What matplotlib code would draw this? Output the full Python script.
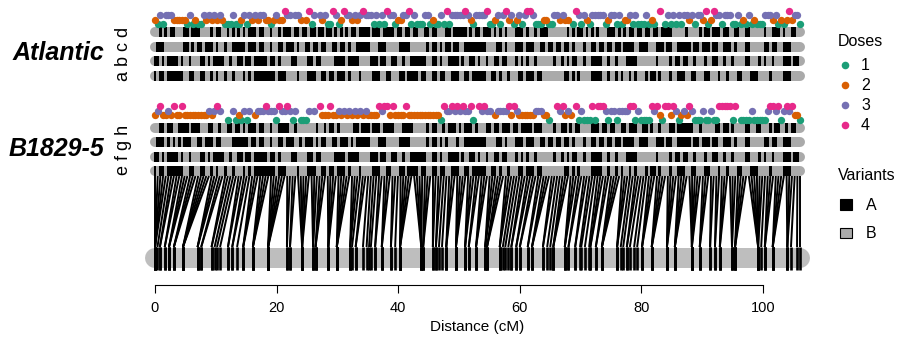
import itertools
import numpy as np
import matplotlib
matplotlib.use("Agg")
import matplotlib.pyplot as plt
from matplotlib.collections import LineCollection
from matplotlib.patches import Rectangle

plt.rcParams["font.family"] = ["Liberation Sans", "DejaVu Sans"]

# linkage map: distinct positions (cM) and how many markers sit at each
map_pos = [0.0, 0.4, 0.8, 1.6, 2.3, 3.1, 4.6, 7.0, 7.6, 9.3,
           9.8, 10.2, 10.7, 12.0, 12.7, 13.5, 14.5, 16.1, 18.6, 21.7,
           22.2, 24.2, 26.0, 26.4, 28.5, 29.9, 32.1, 32.4, 33.0, 34.2,
           34.8, 35.2, 35.5, 36.2, 37.3, 38.8, 39.5, 40.3, 43.8, 44.1,
           45.7, 46.2, 46.7, 47.2, 47.9, 49.5, 51.0, 51.6, 52.8, 54.3,
           54.6, 56.7, 57.2, 57.6, 58.1, 58.6, 59.4, 60.0, 61.3, 62.0,
           63.8, 64.5, 65.0, 65.5, 67.4, 68.0, 69.1, 69.9, 70.1, 70.7,
           71.4, 71.6, 72.5, 73.5, 76.0, 76.6, 77.0, 77.6, 78.1, 78.8,
           79.3, 80.1, 81.7, 84.2, 85.5, 88.3, 89.6, 91.3, 92.1, 92.9,
           94.9, 95.4, 99.2, 99.7, 100.3, 101.6, 104.0, 104.6, 105.6, 106.1]
map_count = [5, 1, 2, 2, 3, 3, 5, 3, 2, 2,
             1, 1, 1, 2, 2, 1, 3, 4, 6, 2,
             2, 5, 3, 3, 4, 5, 3, 1, 2, 1,
             1, 1, 1, 2, 3, 2, 1, 5, 4, 3,
             2, 2, 1, 1, 3, 4, 3, 2, 3, 3,
             3, 3, 1, 1, 1, 2, 2, 2, 2, 3,
             2, 1, 1, 3, 3, 2, 2, 1, 1, 1,
             1, 2, 2, 4, 3, 1, 1, 2, 1, 1,
             1, 3, 4, 4, 4, 5, 3, 2, 2, 3,
             3, 4, 6, 1, 3, 4, 3, 1, 1, 1]

# allele dosage of every marker in each parent (0 = not drawn)
dose_atlantic = ("2131333222 2213121132 3232321113 1123132323 3221232243 3033202413 "
                 "0323114312 4332323433 3131314331 2233413111 3312113141 3333343213 "
                 "3334112313 4231231344 3111221133 2322014313 2133333123 3131223131 "
                 "1131210401 3131313323 1332412433 1333113121 3121113332 3121242331")
dose_b1829 = ("2342232422 4222222222 3234300103 1213130233 3433314334 3130111303 "
              "0422242232 3232323232 2224344242 2224222222 2222221433 4343433410 "
              "4343302333 3424322222 2333221004 3423204131 1141444313 3133334413 "
              "1111434214 4243123243 1113113114 4444140111 1311111344 3413434221")

# homolog phases, 1 = variant A, 0 = variant B
hom_a = ("1011011111 1001100110 0101001001 0001010111 1111101110 0001000111 "
         "0011011011 1010001000 0111001100 0110111101 1001101100 1110011011 "
         "1110011010 0100011011 1011000000 0011010100 0011110010 0101001010 "
         "0010110100 0100111001 1000110001 0010001100 0111000010 0001110000")
hom_b = ("1101011110 1001000110 1011110010 0110110111 1101101000 0110000110 "
         "1100000111 1011110000 1110110011 0010011111 1001101001 1110100110 "
         "1001001101 1000101010 0100000010 0101011001 0011110010 0100011110 "
         "0000001000 0101101100 1000100110 0100100001 1000101001 0001110110")
hom_c = ("0111000000 0110101101 1101001001 1111011101 1001001101 1101001101 "
         "1011001101 1010011111 0001110000 0111100000 0101101011 0110011111 "
         "1110000110 1000111011 1001101101 1011010001 0011011011 0110111100 "
         "1110001110 1100111110 1101110110 0111010001 1000001101 1001110000")
hom_d = ("0010101100 0110111000 0101100101 0101011101 1001001011 1011011011 "
         "0110110101 0101101111 0111011110 1101101100 1101100011 0111110101 "
         "1011101010 1000111010 0101110000 0001010110 1010100011 1010101101 "
         "1011011011 1100000100 0010110111 0110011001 1000001001 1101001100")
hom_e = hom_a
hom_f = hom_b
hom_g = ("0111010101 0111001101 1101100001 1111101101 1001001101 1100101110 "
         "1011001101 1101011111 0001110000 0111100000 0101101010 0010011111 "
         "1110000110 1000111011 1001101101 1011010001 0011011011 0110111100 "
         "1110001110 1100111110 1101110110 0111010001 1000001101 1001110000")
hom_h = ("0011011001 1110111000 1100100110 1101011101 1001001111 0010000000 "
         "1001011010 0000110111 0111011110 0011110000 0101100101 1101011101 "
         "0001101101 1101101111 0111000010 0110101100 0011101101 1001101110 "
         "0110100100 0110111111 0010000011 0110100001 1001100010 1100101100")

dose_colors = {1: "#1B9E77", 2: "#D95F02", 3: "#7570B3", 4: "#E7298A"}
grey_track = "#AAAAAA"
grey_map = "#BEBEBE"


def parse(s):
    return [int(c) for c in s.replace(" ", "")]


cm = np.repeat(map_pos, map_count)
n_mrk = len(cm)
cm_max = cm.max()
# markers spread evenly along the haplotype tracks
top_x = np.linspace(0, cm_max, n_mrk)
step = top_x[1] - top_x[0]

fig = plt.figure(figsize=(9.03, 3.39), dpi=100)
ax = fig.add_axes([0, 0, 1, 1])
px_per_cm = 6.08
ax.set_xlim(-155 / px_per_cm, (903 - 155) / px_per_cm)
ax.set_ylim(339, 0)


def draw_track(y, phase, h=10):
    ax.plot([0, cm_max], [y, y], color=grey_track, lw=h * 0.72,
            solid_capstyle="round", zorder=2)
    alleles = parse(phase)
    i = 0
    for val, grp in itertools.groupby(alleles):
        n = len(list(grp))
        if val == 1:
            ax.add_patch(Rectangle((top_x[i] - step / 2, y - h / 2), n * step, h,
                                   facecolor="black", lw=0, zorder=3))
        i += n


def draw_doses(doses, ys):
    d = np.array(parse(doses))
    for k in (1, 2, 3, 4):
        sel = d == k
        ax.scatter(top_x[sel], np.full(sel.sum(), ys[k]), s=28,
                   color=dose_colors[k], linewidths=0, zorder=4)


# Atlantic (homologs a-d, a at the bottom)
for y, ph in zip([75.5, 61, 46.5, 32], [hom_a, hom_b, hom_c, hom_d]):
    draw_track(y, ph)
draw_doses(dose_atlantic, {1: 24, 2: 19.5, 3: 15, 4: 10.5})

# B1829-5 (homologs e-h)
for y, ph in zip([171, 156.5, 142, 127.5], [hom_e, hom_f, hom_g, hom_h]):
    draw_track(y, ph)
draw_doses(dose_b1829, {1: 119.5, 2: 115, 3: 110.5, 4: 106})

# links from evenly spaced markers to their map position
segs = [[(tx, 176), (c, 247)] for tx, c in zip(top_x, cm)]
ax.add_collection(LineCollection(segs, colors="black", linewidths=1.4, zorder=2))

# linkage group bar
ax.plot([0, cm_max], [258, 258], color=grey_map, lw=20 * 0.72,
        solid_capstyle="round", zorder=2)
ax.vlines(cm, 247, 270, color="black", lw=1.9, zorder=3)

# distance axis
for side in ["top", "left", "right"]:
    ax.spines[side].set_visible(False)
ax.spines["bottom"].set_position(("data", 285))
ax.spines["bottom"].set_bounds(0, 100)
ax.spines["bottom"].set_linewidth(0.8)
ax.set_xticks([0, 20, 40, 60, 80, 100])
ax.tick_params(axis="x", direction="out", length=5.5, width=0.8, pad=6,
               labelsize=10.5)
ax.yaxis.set_visible(False)
ax.text(cm_max / 2, 327, "Distance (cM)", ha="center", va="center", fontsize=11)

# labels and legend in pixel units
ov = fig.add_axes([0, 0, 1, 1])
ov.set_xlim(0, 903)
ov.set_ylim(339, 0)
ov.axis("off")

ov.text(104, 53, "Atlantic", ha="right", va="center", fontsize=18,
        fontweight="bold", fontstyle="italic")
ov.text(104, 149.5, "B1829-5", ha="right", va="center", fontsize=18,
        fontweight="bold", fontstyle="italic")
ov.text(124, 53.5, "a b c d", rotation=90, ha="center", va="center", fontsize=13)
ov.text(124, 149.5, "e f g h", rotation=90, ha="center", va="center", fontsize=13)

ov.text(838, 42, "Doses", ha="left", va="center", fontsize=11.5)
for k, y in zip([1, 2, 3, 4], [65, 85, 105, 125]):
    ov.scatter([845], [y], s=30, color=dose_colors[k], linewidths=0)
    ov.text(861, y, str(k), ha="left", va="center", fontsize=11.5)

ov.text(838, 175, "Variants", ha="left", va="center", fontsize=11.5)
ov.add_patch(Rectangle((840, 199), 12, 11, facecolor="black", edgecolor="black", lw=0.8))
ov.text(866, 205, "A", ha="left", va="center", fontsize=11.5)
ov.add_patch(Rectangle((840, 228), 12, 10, facecolor=grey_track, edgecolor="black", lw=0.8))
ov.text(866, 233, "B", ha="left", va="center", fontsize=11.5)

fig.savefig("out.png", dpi=100)
